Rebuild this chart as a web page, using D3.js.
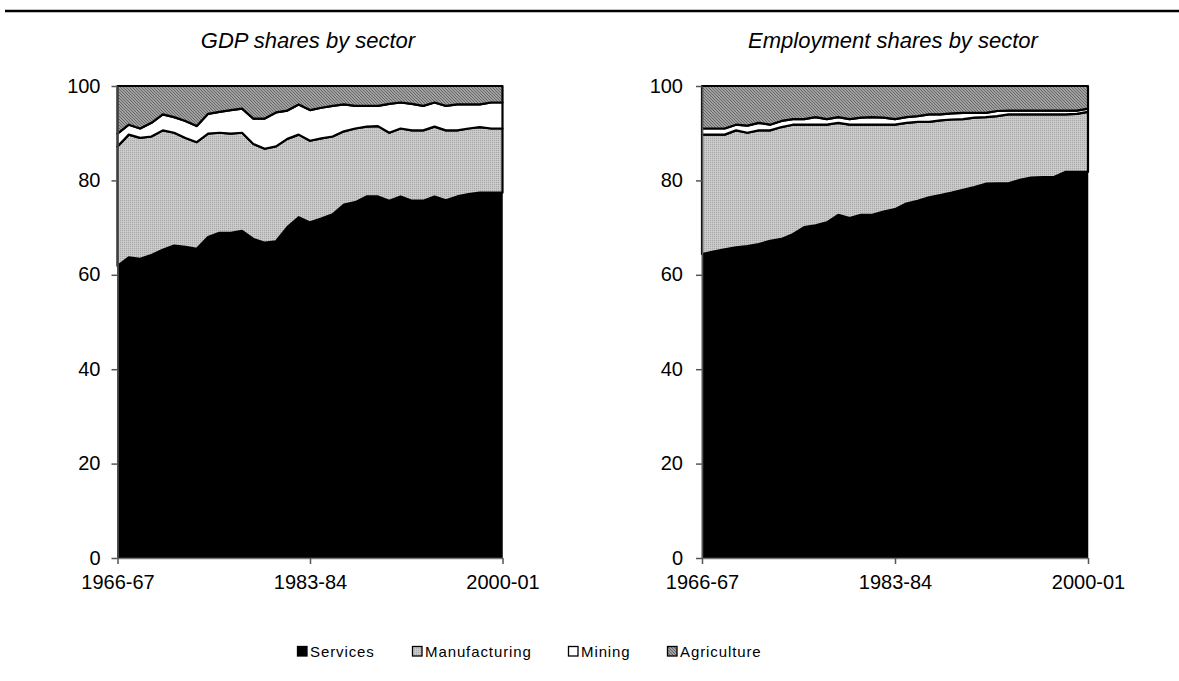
<!DOCTYPE html>
<html><head><meta charset="utf-8">
<script src="https://cdn.jsdelivr.net/npm/d3@7/dist/d3.min.js"></script>
<style>body{margin:0;background:#fff} svg{display:block}</style>
</head><body>
<svg id="c" width="1179" height="681"></svg>
<script>
// ---------- data ----------
const years = ["1966-67","1967-68","1968-69","1969-70","1970-71","1971-72","1972-73","1973-74","1974-75","1975-76",
  "1976-77","1977-78","1978-79","1979-80","1980-81","1981-82","1982-83","1983-84","1984-85","1985-86",
  "1986-87","1987-88","1988-89","1989-90","1990-91","1991-92","1992-93","1993-94","1994-95","1995-96",
  "1996-97","1997-98","1998-99","1999-00","2000-01"];
const sectors = ["Services","Manufacturing","Mining","Agriculture"];
const xTickLabels = ["1966-67","1983-84","2000-01"];
const yTicks = [0,20,40,60,80,100];
const titles = ["GDP shares by sector","Employment shares by sector"];

// GDP shares (%)
const gdpServices = [61.9,63.7,63.4,64.2,65.3,66.2,65.9,65.5,68.0,68.9,68.9,69.3,67.6,66.8,67.1,70.1,72.2,71.1,71.9,72.8,74.9,75.4,76.6,76.6,75.7,76.6,75.7,75.7,76.6,75.8,76.6,77.1,77.4,77.4,77.4];
const gdpManufacturing = [25.3,26.0,25.6,25.1,25.3,23.9,23.1,22.6,21.9,21.2,21.0,20.8,20.1,19.9,20.1,18.7,17.5,17.3,17.0,16.5,15.5,15.6,14.8,14.9,14.4,14.4,14.9,14.9,14.8,14.8,14.0,13.9,13.9,13.6,13.6];
const gdpMining = [2.7,2.1,2.0,2.9,3.4,3.3,3.6,3.4,4.2,4.4,5.0,5.1,5.4,6.4,7.2,6.0,6.4,6.5,6.5,6.5,5.7,4.8,4.4,4.3,6.1,5.5,5.6,5.2,5.1,5.2,5.5,5.1,4.8,5.5,5.5];
const gdpAgriculture = [10.1,8.2,9.0,7.8,6.0,6.6,7.4,8.5,5.9,5.5,5.1,4.8,6.9,6.9,5.6,5.2,3.9,5.1,4.6,4.2,3.9,4.2,4.2,4.2,3.8,3.5,3.8,4.2,3.5,4.2,3.9,3.9,3.9,3.5,3.5];

// Employment shares (%)
const empServices = [64.4,64.9,65.4,65.8,66.1,66.5,67.2,67.6,68.6,70.1,70.5,71.1,72.7,72.0,72.7,72.7,73.4,73.9,75.1,75.7,76.4,76.9,77.4,78.0,78.6,79.3,79.4,79.4,80.1,80.6,80.7,80.7,81.8,81.8,81.8];
const empManufacturing = [25.3,24.8,24.3,24.8,24.0,24.1,23.4,23.7,23.2,21.7,21.3,20.7,19.5,19.8,19.1,19.1,18.4,17.9,17.1,16.7,16.0,15.8,15.5,15.0,14.7,14.1,14.2,14.6,13.9,13.4,13.3,13.3,12.2,12.3,12.7];
const empMining = [1.3,1.3,1.3,1.2,1.5,1.6,1.2,1.3,1.2,1.2,1.6,1.2,1.2,1.2,1.5,1.6,1.5,1.2,1.2,1.2,1.6,1.3,1.3,1.3,1.0,0.9,1.1,0.8,0.8,0.8,0.8,0.8,0.8,0.7,0.7];
const empAgriculture = [9.0,9.0,9.0,8.2,8.4,7.8,8.2,7.4,7.0,7.0,6.6,7.0,6.6,7.0,6.7,6.6,6.7,7.0,6.6,6.4,6.0,6.0,5.8,5.7,5.7,5.7,5.3,5.2,5.2,5.2,5.2,5.2,5.2,5.2,4.8];

// ---------- build tables ----------
function table(s, m, mi, a) {
  return years.map((y, i) => ({year: y, Services: s[i], Manufacturing: m[i], Mining: mi[i], Agriculture: a[i]}));
}
const panels = [
  {title: titles[0], data: table(gdpServices, gdpManufacturing, gdpMining, gdpAgriculture), x0: 117.5, x1: 502.5, lab: 17},
  {title: titles[1], data: table(empServices, empManufacturing, empMining, empAgriculture), x0: 702, x1: 1088, lab: 19}
];

const svg = d3.select("#c");
const font = "'Liberation Sans', Arial, sans-serif";

// patterns
const defs = svg.append("defs");
const pm = defs.append("pattern").attr("id","pManu").attr("patternUnits","userSpaceOnUse").attr("width",2).attr("height",2);
pm.append("rect").attr("width",2).attr("height",2).attr("fill","#c6c6c6");
pm.append("rect").attr("width",1).attr("height",1).attr("fill","#a8a8a8");
pm.append("rect").attr("x",1).attr("y",1).attr("width",1).attr("height",1).attr("fill","#cfcfcf");
const pa = defs.append("pattern").attr("id","pAgri").attr("patternUnits","userSpaceOnUse").attr("width",3).attr("height",3);
pa.append("rect").attr("width",3).attr("height",3).attr("fill","#a0a0a0");
pa.append("rect").attr("x",0).attr("y",0).attr("width",1).attr("height",1).attr("fill","#686868");
pa.append("rect").attr("x",1).attr("y",1).attr("width",1).attr("height",1).attr("fill","#686868");
pa.append("rect").attr("x",2).attr("y",2).attr("width",1).attr("height",1).attr("fill","#686868");

const fills = {Services: "#000", Manufacturing: "url(#pManu)", Mining: "#fff", Agriculture: "url(#pAgri)"};

// top rule
svg.append("line").attr("x1",5).attr("x2",1179).attr("y1",11).attr("y2",11)
  .attr("stroke","#000").attr("stroke-width",2.5);

const yTop = 86, yBot = 558;
const stack = d3.stack().keys(sectors);

panels.forEach(p => {
  const x = d3.scalePoint().domain(years).range([p.x0, p.x1]);
  const y = d3.scaleLinear().domain([0,100]).range([yBot, yTop]);
  const g = svg.append("g");
  const series = stack(p.data);
  const area = d3.area().x(d => x(d.data.year)).y0(d => y(d[0])).y1(d => y(d[1]));
  g.selectAll("path.a").data(series).join("path")
    .attr("class","a")
    .attr("d", area)
    .attr("fill", d => fills[d.key])
    .attr("stroke", "#000")
    .attr("stroke-width", d => d.key === "Services" ? 0.5 : 2.2)
    .attr("stroke-linejoin","round");

  // y axis
  const ya = g.append("g").attr("transform", `translate(${p.x0},0)`)
    .call(d3.axisLeft(y).tickValues(yTicks).tickSize(6).tickSizeOuter(0).tickPadding(p.lab - 6));
  ya.select(".domain").attr("stroke","#555").attr("stroke-width",1.5);
  ya.selectAll(".tick line").attr("stroke","#555").attr("stroke-width",1.5);
  ya.selectAll("text").attr("font-family",font).attr("font-size",20).attr("fill","#000").attr("dy","0.3em");

  // x axis
  const xa = g.append("g").attr("transform", `translate(0,${yBot})`)
    .call(d3.axisBottom(x).tickValues(xTickLabels).tickSize(6).tickSizeOuter(0).tickPadding(8));
  xa.select(".domain").attr("stroke","#777").attr("stroke-width",1.5);
  xa.selectAll(".tick line").attr("stroke","#555").attr("stroke-width",1.5);
  xa.selectAll("text").attr("font-family",font).attr("font-size",20).attr("fill","#000").attr("dy","0.85em");

  // title
  svg.append("text").attr("x", (p.x0 + p.x1) / 2 - 2).attr("y", 48)
    .attr("text-anchor","middle").attr("font-family",font).attr("font-style","italic")
    .attr("font-size",22).text(p.title);
});

// legend
const legX = [297, 412, 568, 667];
const leg = svg.append("g");
sectors.forEach((s, i) => {
  leg.append("rect").attr("x", legX[i] + 0.5).attr("y", 646.5).attr("width", 9.5).attr("height", 9.5)
    .attr("fill", fills[s]).attr("stroke","#000").attr("stroke-width",1.3);
  leg.append("text").attr("x", legX[i] + 13).attr("y", 657)
    .attr("font-family",font).attr("font-size",15).attr("letter-spacing","0.9px").text(s);
});
</script>
</body></html>
